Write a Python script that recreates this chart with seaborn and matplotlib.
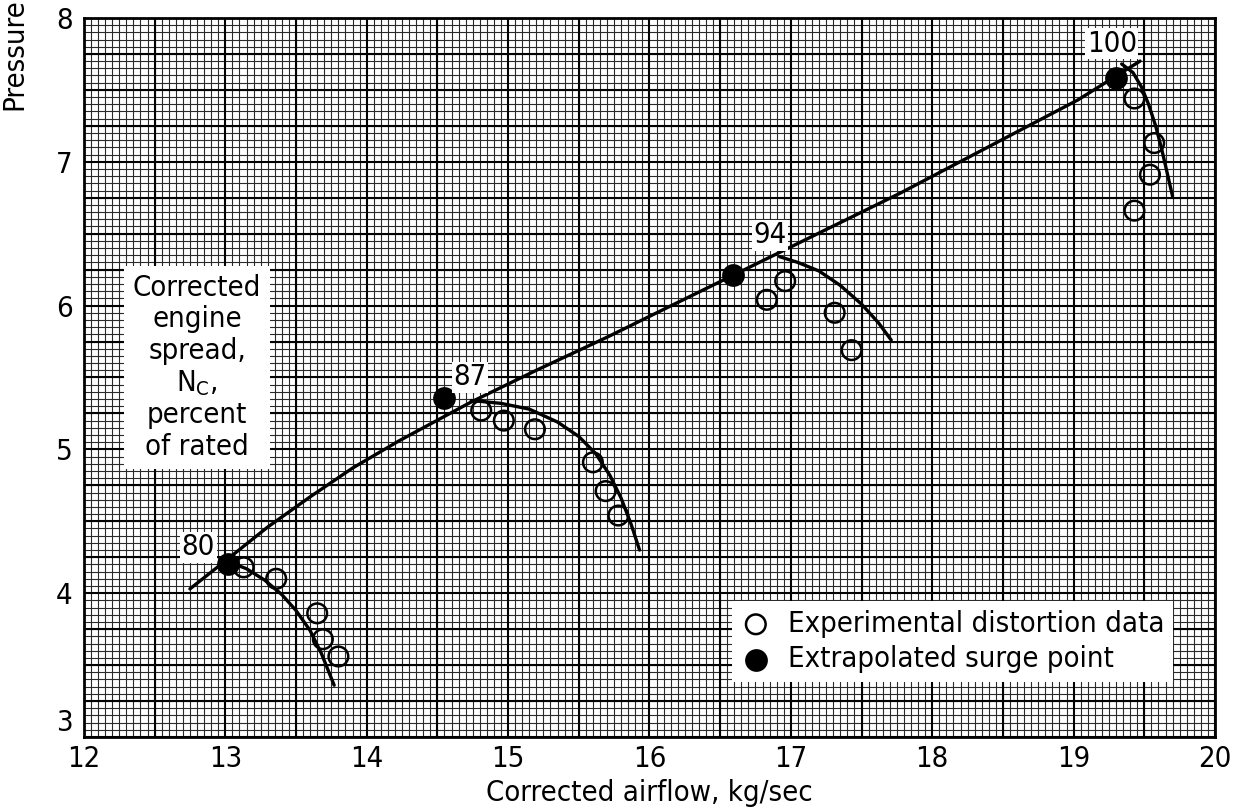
import matplotlib
matplotlib.use("Agg")
import matplotlib.pyplot as plt
from matplotlib.ticker import MultipleLocator
import seaborn as sns

# ---------------- data ----------------
surge_x = [12.75, 13.02, 13.30, 13.60, 13.90, 14.23, 14.74, 15.20, 15.70, 16.59, 17.77, 19.03, 19.47]
surge_y = [4.03, 4.24, 4.46, 4.67, 4.87, 5.06, 5.33, 5.55, 5.78, 6.21, 6.78, 7.43, 7.70]

speed80_x = [13.02, 13.15, 13.28, 13.40, 13.50, 13.60, 13.68, 13.77]
speed80_y = [4.22, 4.17, 4.09, 3.99, 3.88, 3.74, 3.58, 3.36]
speed87_x = [14.74, 14.95, 15.15, 15.35, 15.50, 15.62, 15.72, 15.80, 15.87, 15.93]
speed87_y = [5.34, 5.32, 5.28, 5.19, 5.09, 4.97, 4.82, 4.66, 4.48, 4.30]
speed94_x = [16.92, 17.05, 17.20, 17.35, 17.50, 17.62, 17.71]
speed94_y = [6.34, 6.30, 6.24, 6.14, 6.01, 5.88, 5.76]
speed100_x = [19.34, 19.42, 19.48, 19.53, 19.58, 19.62, 19.66, 19.70]
speed100_y = [7.68, 7.62, 7.52, 7.40, 7.25, 7.10, 6.93, 6.76]

exp_x = [13.13, 13.36, 13.65, 13.69, 13.80,
         14.81, 14.97, 15.19, 15.60, 15.69, 15.78,
         16.83, 16.96, 17.31, 17.43,
         19.43, 19.57, 19.54, 19.43]
exp_y = [4.18, 4.10, 3.86, 3.68, 3.56,
         5.27, 5.20, 5.14, 4.91, 4.71, 4.54,
         6.04, 6.17, 5.95, 5.69,
         7.44, 7.13, 6.91, 6.66]

surge_pt_x = [13.02, 14.55, 16.59, 19.30]
surge_pt_y = [4.20, 5.36, 6.21, 7.58]

speed_labels = ["80", "87", "94", "100"]
speed_label_x = [12.81, 14.73, 16.85, 19.27]
speed_label_y = [4.32, 5.50, 6.49, 7.82]

x_ticks = [12, 13, 14, 15, 16, 17, 18, 19, 20]
y_ticks = [3, 4, 5, 6, 7, 8]

# ---------------- style ----------------
sns.set_theme(style="white")
plt.rcParams["font.family"] = ["DejaVu Sans"]
plt.rcParams["font.stretch"] = "condensed"
plt.rcParams["text.color"] = "black"
plt.rcParams["xtick.color"] = "black"
plt.rcParams["ytick.color"] = "black"
plt.rcParams["axes.labelcolor"] = "black"
plt.rcParams["mathtext.fontset"] = "custom"
plt.rcParams["mathtext.rm"] = "DejaVu Sans:stretch=condensed"

fig = plt.figure(figsize=(12.34, 8.09), dpi=100)
ax = fig.add_axes([0.068, 0.089, 0.9166, 0.8888])

FS = 21

# grid (graph paper)
ax.set_xlim(12, 20)
ax.set_ylim(3, 8)
ax.xaxis.set_minor_locator(MultipleLocator(0.05))
ax.yaxis.set_minor_locator(MultipleLocator(0.05))
ax.grid(which="minor", color="#2a2a2a", linewidth=0.8)
for gx in [12 + 0.5 * i for i in range(17)]:
    ax.axvline(gx, color="black", linewidth=1.5, zorder=0.6)
for gy in [3 + 0.25 * i for i in range(21)]:
    ax.axhline(gy, color="black", linewidth=1.5, zorder=0.6)
ax.set_axisbelow(True)
ax.set_xticks(x_ticks)
ax.set_yticks(y_ticks)
ax.tick_params(which="both", length=0)
ax.tick_params(axis="x", pad=6, labelsize=FS)
ax.tick_params(axis="y", pad=8, labelsize=FS)
ax.get_yticklabels()[0].set_va("bottom")
for s in ax.spines.values():
    s.set_color("black")
    s.set_linewidth(2)
    s.set_visible(True)

# lines
lines = [(surge_x, surge_y), (speed80_x, speed80_y), (speed87_x, speed87_y),
         (speed94_x, speed94_y), (speed100_x, speed100_y)]
for lx, ly in lines:
    sns.lineplot(x=lx, y=ly, ax=ax, color="black", linewidth=2.4,
                 sort=False, estimator=None, zorder=3)

# markers
sns.scatterplot(x=exp_x, y=exp_y, ax=ax, marker="o", s=200, facecolor="none",
                edgecolor="black", linewidth=1.8, zorder=4,
                label="Experimental distortion data")
sns.scatterplot(x=surge_pt_x, y=surge_pt_y, ax=ax, marker="o", s=230,
                color="black", edgecolor="black", zorder=5,
                label="Extrapolated surge point")

# speed labels
for t, tx, ty in zip(speed_labels, speed_label_x, speed_label_y):
    ax.text(tx, ty, t, fontsize=FS, ha="center", va="center", zorder=6,
            bbox=dict(facecolor="white", edgecolor="none", pad=1))

# inner annotation box
ax.text(12.80, 5.57,
        "Corrected\nengine\nspread,\n$\\mathregular{N_C}$,\npercent\nof rated",
        fontsize=FS, ha="center", va="center", linespacing=1.15, zorder=6,
        bbox=dict(facecolor="white", edgecolor="none", pad=6))

leg = ax.legend(loc="lower right", bbox_to_anchor=(0.963, 0.0765),
                borderaxespad=0, fontsize=FS, frameon=True, fancybox=False,
                handletextpad=0.6, borderpad=0.3, labelspacing=0.25,
                handlelength=1.0)
leg.get_frame().set_facecolor("white")
leg.get_frame().set_edgecolor("none")
leg.get_frame().set_alpha(1)
leg.set_zorder(7)

ax.set_xlabel("Corrected airflow, kg/sec", fontsize=FS, labelpad=4)
ax.set_ylabel("")
fig.text(0.012, 0.864, "Pressure", rotation=90, fontsize=FS,
         ha="center", va="bottom")

fig.savefig("out.png", dpi=100)
